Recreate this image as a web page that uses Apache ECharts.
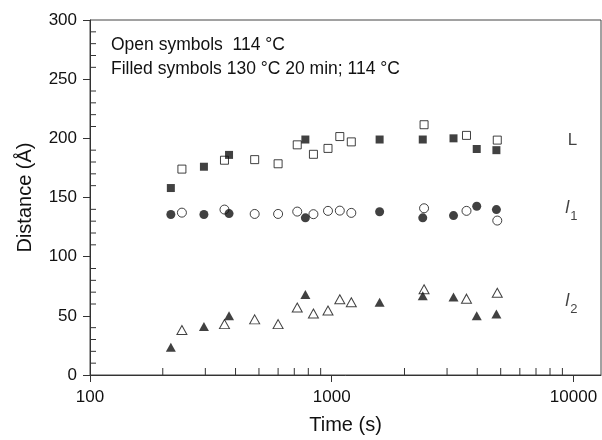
<!DOCTYPE html>
<html>
<head>
<meta charset="utf-8">
<style>
  html, body { margin: 0; padding: 0; background: #fff; }
  #chart { width: 602px; height: 440px; }
</style>
<script src="https://cdn.jsdelivr.net/npm/echarts@6/dist/echarts.min.js"></script>
</head>
<body>
<div id="chart"></div>
<script>
// times (s)
const filledTime = [216, 296, 376, 778, 1578, 2380, 3190, 3980, 4800];
const openTime = [240, 360, 480, 600, 720, 840, 965, 1080, 1205, 2410, 3610, 4840];

// distances (Å)
const longFilled = [158, 176, 186, 199, 199, 199, 200, 191, 190];
const longOpen = [174, 181.5, 182, 178.5, 194.5, 186.5, 191.5, 201.5, 197, 211.5, 202.5, 198.5];
const l1Filled = [135.6, 135.6, 136.4, 132.8, 138, 132.8, 134.7, 142.6, 139.8];
const l1Open = [137.2, 139.8, 136.1, 136.1, 138.1, 135.9, 138.7, 138.9, 137, 140.9, 138.7, 130.5];
const l2Filled = [23.5, 41, 50, 68, 61.5, 67, 66, 50, 51.5];
const l2Open = [38, 43, 47, 43, 57, 52, 54.5, 64, 61.5, 72.5, 64.5, 69.5];

const xMajorTicks = [100, 1000, 10000];
const xMinorTicks = [200, 300, 400, 500, 600, 700, 800, 900, 2000, 3000, 4000, 5000, 6000, 7000, 8000, 9000];
const yMinorTicks = [10, 20, 30, 40, 60, 70, 80, 90, 110, 120, 130, 140, 160, 170, 180, 190,
  210, 220, 230, 240, 260, 270, 280, 290];

const curveNames = ['{n|L}', '{i|l}{s|1}', '{i|l}{s|2}'];
const curveNameTime = [9900, 9800, 9800];
const curveNameDistance = [198, 140, 62];

const FONT = '"Liberation Sans", Arial, sans-serif';
const INK = '#111';
const AXIS = '#333';

const pairs = (xs, ys) => xs.map((x, i) => [x, ys[i]]);

function openSeries(xs, ys, symbol, size) {
  return {
    type: 'scatter', data: pairs(xs, ys), symbol, symbolSize: size,
    itemStyle: { color: '#fff', borderColor: INK, borderWidth: 1 },
    z: 3, silent: true
  };
}
function filledSeries(xs, ys, symbol, size) {
  return {
    type: 'scatter', data: pairs(xs, ys), symbol, symbolSize: size,
    itemStyle: { color: INK },
    z: 4, silent: true
  };
}

// short inward tick marks drawn through the axis scales
function tickSeries(data, dx, dy) {
  return {
    type: 'custom', silent: true, clip: false, z: 5,
    data,
    renderItem: (params, api) => {
      const p = api.coord([api.value(0), api.value(1)]);
      return {
        type: 'line',
        shape: { x1: p[0], y1: p[1], x2: p[0] + dx, y2: p[1] + dy },
        style: { stroke: AXIS, lineWidth: 1 }
      };
    }
  };
}

const chart = echarts.init(document.getElementById('chart'), null, { renderer: 'canvas' });

chart.setOption({
  animation: false,
  backgroundColor: '#fff',
  textStyle: { fontFamily: FONT },
  grid: { left: 90, right: 1, top: 20, bottom: 63, show: true, borderColor: '#444', borderWidth: 1 },
  xAxis: {
    type: 'log', logBase: 10, min: 100, max: 13000,
    name: 'Time (s)', nameLocation: 'middle', nameGap: 40,
    nameTextStyle: { fontSize: 20, color: INK, fontFamily: FONT },
    axisLine: { lineStyle: { color: AXIS, width: 1 } },
    axisTick: { length: 7, lineStyle: { color: AXIS } },
    axisLabel: {
      fontSize: 17, color: INK, margin: 14, fontFamily: FONT, showMaxLabel: false,
      formatter: v => xMajorTicks.includes(Math.round(v)) ? String(Math.round(v)) : ''
    },
    splitLine: { show: false }
  },
  yAxis: {
    type: 'value', min: 0, max: 300, interval: 50,
    name: 'Distance (Å)', nameLocation: 'middle', nameGap: 55,
    nameTextStyle: { fontSize: 20, color: INK, fontFamily: FONT },
    axisLine: { show: true, lineStyle: { color: AXIS, width: 1 } },
    axisTick: { length: 7, lineStyle: { color: AXIS } },
    axisLabel: { fontSize: 17, color: INK, margin: 13, fontFamily: FONT },
    splitLine: { show: false }
  },
  graphic: [{
    type: 'text', left: 111, top: 33,
    style: {
      text: 'Open symbols  114 °C\nFilled symbols 130 °C 20 min; 114 °C',
      font: '17.5px ' + FONT, fill: INK, lineHeight: 24
    }
  }],
  series: [
    openSeries(openTime, longOpen, 'rect', 8),
    openSeries(openTime, l1Open, 'circle', 9),
    openSeries(openTime, l2Open, 'triangle', [10, 9]),
    filledSeries(filledTime, longFilled, 'rect', 8),
    filledSeries(filledTime, l1Filled, 'circle', 9),
    filledSeries(filledTime, l2Filled, 'triangle', [10, 9]),
    {
      type: 'scatter', symbolSize: 2, silent: true, z: 6,
      itemStyle: { color: 'rgba(255,255,255,0)' },
      data: curveNameTime.map((t, i) => ({ value: [t, curveNameDistance[i]], name: curveNames[i] })),
      label: {
        show: true, position: 'inside', formatter: p => p.name,
        color: INK, textBorderWidth: 0,
        rich: {
          n: { fontSize: 17, color: INK, fontFamily: FONT },
          i: { fontSize: 18, fontStyle: 'italic', color: INK, fontFamily: FONT, lineHeight: 20, verticalAlign: 'top' },
          s: { fontSize: 13, color: INK, fontFamily: FONT, lineHeight: 13, padding: [11, 0, 0, 1], verticalAlign: 'top' }
        }
      }
    },
    tickSeries(xMinorTicks.map(v => [v, 0]), 0, -7),
    tickSeries(yMinorTicks.map(v => [100, v]), 6, 0)
  ]
});
</script>
</body>
</html>
